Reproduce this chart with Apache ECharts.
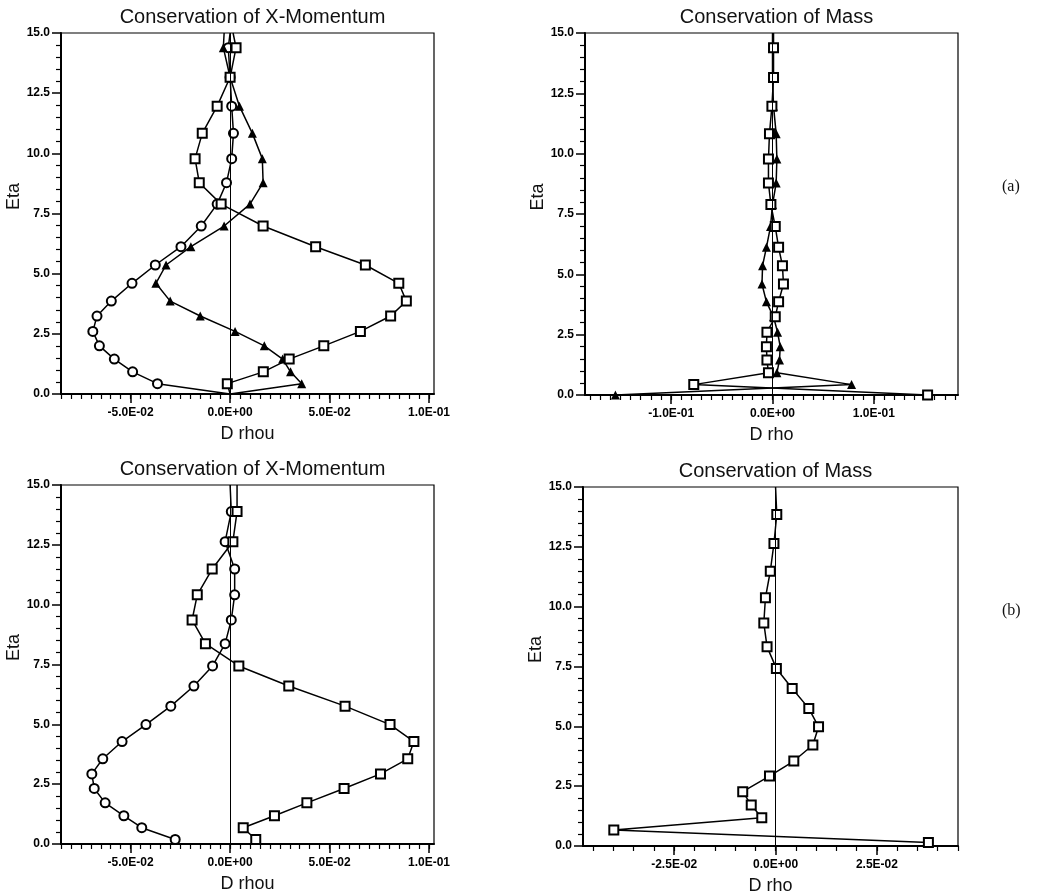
<!DOCTYPE html>
<html>
<head>
<meta charset="utf-8">
<title>Conservation of X-Momentum / Mass</title>
<script src="https://cdn.jsdelivr.net/npm/echarts@6/dist/echarts.min.js"></script>
<style>
  html, body { margin: 0; padding: 0; background: #fff; }
  #chart { width: 1039px; height: 896px; }
</style>
</head>
<body>
<div id="chart"></div>
<script>
// ---- data (eta first entry = where the curve leaves the top) ----
// (a) X-momentum
const etaA = [15, 14.39, 13.16, 11.96, 10.83, 9.78, 8.78, 7.89, 6.98, 6.12, 5.36, 4.6, 3.86, 3.24, 2.6, 2.0, 1.45, 0.92, 0.43, 0]
const rhouA_sq  = [0.0015, 0.003, 0.0, -0.0065, -0.014, -0.0176, -0.0155, -0.0045, 0.0166, 0.043, 0.068, 0.0848, 0.0886, 0.0807, 0.0655, 0.0471, 0.0297, 0.0167, -0.0014, 0]
const rhouA_ci  = [0.0, -0.0009, 0.0, 0.0008, 0.0017, 0.0008, -0.0018, -0.0065, -0.0145, -0.0247, -0.0376, -0.0493, -0.0597, -0.0669, -0.069, -0.0657, -0.0582, -0.049, -0.0365, 0]
const rhouA_tri = [-0.003, -0.0034, 0.0, 0.0047, 0.0112, 0.0162, 0.0166, 0.01, -0.003, -0.0197, -0.0322, -0.0373, -0.0301, -0.015, 0.0025, 0.0172, 0.0264, 0.0304, 0.036, 0]
// (a) mass
const rhoA_sq  = [0.001, 0.001, 0.001, -0.0006, -0.003, -0.004, -0.004, -0.0016, 0.0027, 0.006, 0.0098, 0.0108, 0.006, 0.0027, -0.0055, -0.006, -0.0055, -0.004, -0.0777, 0.153]
const rhoA_tri = [0.0, 0.0, 0.0, 0.001, 0.0036, 0.0043, 0.0036, 0.0, -0.002, -0.006, -0.0098, -0.0104, -0.006, 0.001, 0.005, 0.0076, 0.0069, 0.0043, 0.078, -0.155]
// (b) X-momentum
const etaB = [15, 13.89, 12.63, 11.49, 10.41, 9.36, 8.37, 7.44, 6.6, 5.76, 4.99, 4.28, 3.56, 2.93, 2.32, 1.72, 1.18, 0.68, 0.19]
const rhouB_ci = [0.0, 0.0006, -0.0025, 0.0023, 0.0023, 0.0006, -0.0025, -0.0088, -0.0182, -0.0298, -0.0423, -0.0543, -0.064, -0.0695, -0.0683, -0.0628, -0.0534, -0.0444, -0.0276]
const rhouB_sq = [0.0035, 0.0035, 0.0014, -0.009, -0.0165, -0.0191, -0.0124, 0.0044, 0.0295, 0.0578, 0.0804, 0.0924, 0.0893, 0.0756, 0.0573, 0.0386, 0.0223, 0.0066, 0.0129]
// (b) mass
const etaBm = [15, 13.85, 12.64, 11.48, 10.37, 9.32, 8.32, 7.42, 6.58, 5.75, 4.98, 4.22, 3.55, 2.92, 2.27, 1.71, 1.18, 0.67, 0.15]
const rhoB_sq = [0.0, 0.0003, -0.0004, -0.0013, -0.0025, -0.0029, -0.0021, 0.0002, 0.0041, 0.0082, 0.0106, 0.0092, 0.0045, -0.0015, -0.0081, -0.006, -0.0034, -0.0399, 0.0377]

// tick labels
const xMajorMom = [-0.05, 0, 0.05, 0.1]
const xMajorMassA = [-0.1, 0, 0.1]
const xMajorMassB = [-0.025, 0, 0.025]

const FONT = 'Liberation Sans, Arial, sans-serif'

function sci(v) {
  if (Math.abs(v) < 1e-12) return '0.0E+00'
  const p = v.toExponential(1).split('e')
  const ex = parseInt(p[1], 10)
  return p[0] + 'E' + (ex < 0 ? '-' : '+') + String(Math.abs(ex)).padStart(2, '0')
}
function steps(from, to, step) {
  const out = []
  for (let k = Math.ceil(from / step - 1e-9); k * step <= to + 1e-12; k++) out.push(+(k * step).toFixed(6))
  return out
}
// pair x values with eta; listed indexes get no marker
function pts(xs, etas, noMark) {
  return xs.map((x, i) => noMark.indexOf(i) >= 0 ? { value: [x, etas[i]], symbol: 'none' } : [x, etas[i]])
}

// panel boxes and x ranges
const panels = [
  { box: { left: 61, top: 33, width: 373, height: 361 }, min: -0.085, max: 0.1025, majors: xMajorMom, minor: 0.005, title: 'Conservation of X-Momentum', xname: 'D rhou' },
  { box: { left: 585, top: 33, width: 373, height: 362 }, min: -0.185, max: 0.183, majors: xMajorMassA, minor: 0.01, title: 'Conservation of Mass', xname: 'D rho' },
  { box: { left: 61, top: 485, width: 373, height: 359 }, min: -0.085, max: 0.1025, majors: xMajorMom, minor: 0.005, title: 'Conservation of X-Momentum', xname: 'D rhou' },
  { box: { left: 583, top: 487, width: 375, height: 359 }, min: -0.0475, max: 0.045, majors: xMajorMassB, minor: 0.005, title: 'Conservation of Mass', xname: 'D rho' }
]

const grid = [], xAxis = [], yAxis = [], title = []
panels.forEach((p, i) => {
  grid.push(Object.assign({ show: true, borderColor: '#000', borderWidth: 1.2, backgroundColor: 'transparent' }, p.box))
  title.push({
    text: p.title, left: p.box.left + p.box.width / 2, top: p.box.top - 31, textAlign: 'center',
    textStyle: { fontFamily: FONT, fontSize: 20, fontWeight: 'normal', color: '#111' }
  })
  xAxis.push({
    gridIndex: i, type: 'value', min: p.min, max: p.max, position: 'bottom',
    axisLine: { show: true, onZero: false, lineStyle: { color: '#000', width: 2 } },
    axisTick: { show: true, length: 9, customValues: p.majors, lineStyle: { color: '#000', width: 1.5 } },
    axisLabel: { customValues: p.majors, formatter: sci, color: '#000', fontFamily: FONT, fontSize: 12, fontWeight: 'bold', margin: 13 },
    splitLine: { show: false },
    name: p.xname, nameLocation: 'middle', nameGap: 31,
    nameTextStyle: { fontFamily: FONT, fontSize: 18, color: '#111' }
  })
  yAxis.push({
    gridIndex: i, type: 'value', min: 0, max: 15, interval: 2.5,
    axisLine: { show: true, onZero: false, lineStyle: { color: '#000', width: 2 } },
    axisTick: { show: true, length: 9, lineStyle: { color: '#000', width: 1.5 } },
    minorTick: { show: true, splitNumber: 5, length: 5, lineStyle: { color: '#000', width: 1.2 } },
    axisLabel: { formatter: v => v.toFixed(1), color: '#000', fontFamily: FONT, fontSize: 12, fontWeight: 'bold', margin: 11 },
    splitLine: { show: false }, minorSplitLine: { show: false },
    name: 'Eta', nameLocation: 'middle', nameGap: 37, nameRotate: 90,
    nameTextStyle: { fontFamily: FONT, fontSize: 18, color: '#111', padding: [0, 0, 0, 34] }
  })
})
// ghost grids carrying the short minor x ticks
panels.forEach((p, i) => {
  grid.push(Object.assign({ show: false }, p.box))
  xAxis.push({
    gridIndex: 4 + i, type: 'value', min: p.min, max: p.max, position: 'bottom',
    axisLine: { show: false },
    axisTick: { show: true, length: 5, customValues: steps(p.min, p.max, p.minor), lineStyle: { color: '#000', width: 1.2 } },
    axisLabel: { show: false }, splitLine: { show: false }
  })
  yAxis.push({ gridIndex: 4 + i, type: 'value', min: 0, max: 15, show: false })
})
title.push({ text: '(a)', left: 997, top: 174, textStyle: { fontFamily: 'Liberation Serif, serif', fontSize: 16, fontWeight: 'normal', color: '#111' } })
title.push({ text: '(b)', left: 997, top: 598, textStyle: { fontFamily: 'Liberation Serif, serif', fontSize: 16, fontWeight: 'normal', color: '#111' } })

const zeroLine = {
  silent: true, symbol: 'none', label: { show: false }, animation: false,
  lineStyle: { color: '#000', width: 1, type: 'solid' }, data: [{ xAxis: 0 }]
}
function curve(i, data, kind, withZero) {
  const s = {
    type: 'line', xAxisIndex: i, yAxisIndex: i, data: data,
    symbol: kind === 'sq' ? 'emptyRect' : kind === 'ci' ? 'emptyCircle' : 'triangle',
    symbolSize: 9,
    lineStyle: { color: '#000', width: 1.5 },
    itemStyle: { color: '#000', borderWidth: 1.6 },
    emphasis: { disabled: true }
  }
  if (withZero) s.markLine = zeroLine
  return s
}

const series = [
  curve(0, pts(rhouA_ci, etaA, [0, 19]), 'ci', true),
  curve(0, pts(rhouA_tri, etaA, [0, 19]), 'tri'),
  curve(0, pts(rhouA_sq, etaA, [0, 19]), 'sq'),
  curve(1, pts(rhoA_tri, etaA, [0]), 'tri', true),
  curve(1, pts(rhoA_sq, etaA, [0]), 'sq'),
  curve(2, pts(rhouB_ci, etaB, [0]), 'ci', true),
  curve(2, pts(rhouB_sq, etaB, [0]), 'sq'),
  curve(3, pts(rhoB_sq, etaBm, [0]), 'sq', true)
]

const chart = echarts.init(document.getElementById('chart'))
chart.setOption({
  backgroundColor: '#fff',
  animation: false,
  title: title,
  grid: grid,
  xAxis: xAxis,
  yAxis: yAxis,
  series: series
})
</script>
</body>
</html>
